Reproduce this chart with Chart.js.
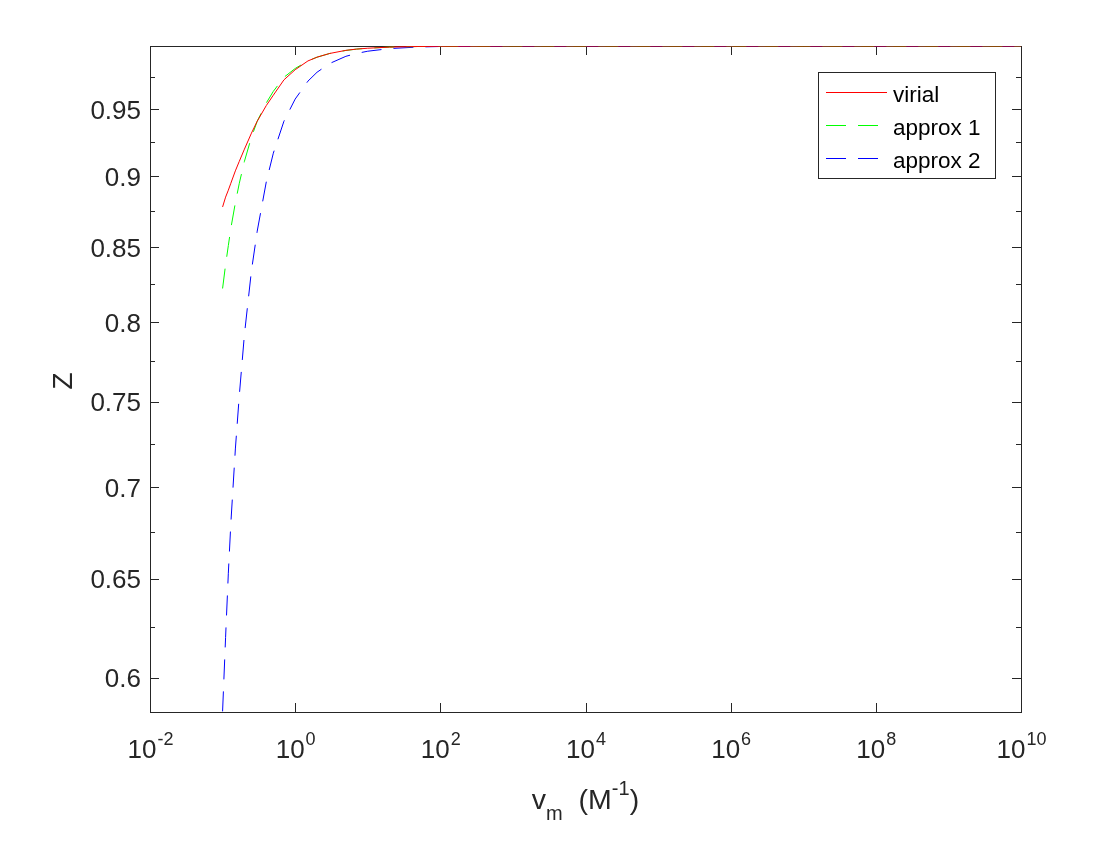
<!DOCTYPE html>
<html>
<head>
<meta charset="utf-8">
<title>Z vs vm</title>
<script src="https://cdn.jsdelivr.net/npm/chart.js@4"></script>
<style>
  body { margin: 0; background: #fff; }
  #wrap { position: relative; width: 1117px; height: 851px; }
</style>
</head>
<body>
<div id="wrap"><canvas id="gr1"></canvas></div>
<script>
// molar volume (M^-1), log spaced sample points
const vm = [0.1, 0.11, 0.12, 0.13, 0.15, 0.17, 0.2, 0.25, 0.3, 0.4, 0.5, 0.7, 1, 1.5, 2, 3, 5, 7, 10, 20, 50, 100,
  1e3, 1e4, 1e5, 1e6, 1e7, 1e8, 1e9, 1e10];

// compressibility factor
const zVirial = [0.878, 0.885, 0.890, 0.895, 0.904, 0.911, 0.920, 0.932, 0.941, 0.953, 0.961, 0.973, 0.981, 0.988,
  0.991, 0.994, 0.9965, 0.9975, 0.9982, 0.9991, 0.9996, 0.9998, 1, 1, 1, 1, 1, 1, 1, 1];
const zApprox1 = [0.822, 0.838, 0.851, 0.863, 0.881, 0.895, 0.911, 0.929, 0.941, 0.955, 0.964, 0.975, 0.982, 0.988,
  0.991, 0.994, 0.9964, 0.9975, 0.9982, 0.9991, 0.9996, 0.9998, 1, 1, 1, 1, 1, 1, 1, 1];
const zApprox2 = [0.584, 0.620, 0.653, 0.680, 0.722, 0.754, 0.792, 0.834, 0.861, 0.896, 0.917, 0.941, 0.958, 0.972,
  0.979, 0.986, 0.9917, 0.994, 0.9958, 0.9979, 0.9992, 0.9996, 1, 1, 1, 1, 1, 1, 1, 1];

const seriesNames = ['virial', 'approx 1', 'approx 2'];

// axis ticks
const xTickExp = [-2, 0, 2, 4, 6, 8, 10];
const yTicks = [0.6, 0.65, 0.7, 0.75, 0.8, 0.85, 0.9, 0.95];
const yTickLabels = ['0.6', '0.65', '0.7', '0.75', '0.8', '0.85', '0.9', '0.95'];
const yMinorTicks = [0.625, 0.675, 0.725, 0.775, 0.825, 0.875, 0.925, 0.975];
const xRange = [0.01, 1e10];
const yRange = [0.5837, 1.0];

const axisCol = '#262626';
const FONT = '"Liberation Sans", Arial, Helvetica, sans-serif';

function pts(ys) {
  return vm.map((v, i) => ({ x: v, y: ys[i] }));
}

// frame, ticks and labels drawn with the chart's own scales
const matlabAxes = {
  id: 'matlabAxes',
  beforeDatasetsDraw(chart) {
    const { ctx, chartArea: a, scales } = chart;
    const xs = scales.x, ys = scales.y;
    ctx.save();
    ctx.strokeStyle = axisCol;
    ctx.lineWidth = 1;
    ctx.strokeRect(Math.round(a.left) + 0.5, Math.round(a.top) + 0.5,
      Math.round(a.right - a.left), Math.round(a.bottom - a.top));
    ctx.beginPath();
    xTickExp.forEach(e => {
      const px = Math.round(xs.getPixelForValue(Math.pow(10, e))) + 0.5;
      ctx.moveTo(px, a.bottom); ctx.lineTo(px, a.bottom - 9);
      ctx.moveTo(px, a.top); ctx.lineTo(px, a.top + 9);
    });
    yTicks.forEach(v => {
      const py = Math.round(ys.getPixelForValue(v)) + 0.5;
      ctx.moveTo(a.left, py); ctx.lineTo(a.left + 9, py);
      ctx.moveTo(a.right, py); ctx.lineTo(a.right - 9, py);
    });
    yMinorTicks.forEach(v => {
      const py = Math.round(ys.getPixelForValue(v)) + 0.5;
      ctx.moveTo(a.left, py); ctx.lineTo(a.left + 5, py);
      ctx.moveTo(a.right, py); ctx.lineTo(a.right - 5, py);
    });
    ctx.stroke();

    ctx.fillStyle = axisCol;
    // y tick labels
    ctx.font = '26px ' + FONT;
    ctx.textAlign = 'right';
    ctx.textBaseline = 'alphabetic';
    yTicks.forEach((v, i) => {
      ctx.fillText(yTickLabels[i], a.left - 9, ys.getPixelForValue(v) + 9.5);
    });
    // x tick labels 10^n
    ctx.textAlign = 'left';
    xTickExp.forEach(e => {
      const px = xs.getPixelForValue(Math.pow(10, e));
      ctx.font = '26px ' + FONT;
      const w1 = ctx.measureText('10').width;
      ctx.font = '18px ' + FONT;
      const w2 = ctx.measureText(String(e)).width;
      const x0 = px - (w1 + w2) / 2;
      ctx.font = '26px ' + FONT;
      ctx.fillText('10', x0, a.bottom + 46);
      ctx.font = '18px ' + FONT;
      ctx.fillText(String(e), x0 + w1 + 1, a.bottom + 33);
    });

    // x axis title: v_m (M^-1)
    const big = '28.5px ' + FONT, small = '20px ' + FONT;
    const parts = [['v', big, 0], ['m', small, 11], ['  (M', big, 0], ['-1', small, -14], [')', big, 0]];
    let tot = 0;
    parts.forEach(p => { ctx.font = p[1]; tot += ctx.measureText(p[0]).width; });
    let cx = (a.left + a.right) / 2 - tot / 2;
    const base = a.bottom + 97;
    parts.forEach(p => {
      ctx.font = p[1];
      ctx.fillText(p[0], cx, base + p[2]);
      cx += ctx.measureText(p[0]).width;
    });

    // y axis title
    ctx.save();
    ctx.translate(72, (a.top + a.bottom) / 2 + 2);
    ctx.rotate(-Math.PI / 2);
    ctx.font = big;
    ctx.textAlign = 'center';
    ctx.fillText('Z', 0, 0);
    ctx.restore();
    ctx.restore();
  },
  afterDraw(chart) {
    // legend box, upper right
    const { ctx } = chart;
    const bx = 818.5, by = 72.5, bw = 177, bh = 106;
    ctx.save();
    ctx.fillStyle = '#fff';
    ctx.fillRect(bx, by, bw, bh);
    ctx.strokeStyle = axisCol;
    ctx.lineWidth = 1;
    ctx.strokeRect(bx, by, bw, bh);
    ctx.font = '22.5px ' + FONT;
    ctx.textBaseline = 'alphabetic';
    chart.data.datasets.forEach((ds, i) => {
      const ly = Math.round(92 + i * 33) + 0.5;
      ctx.strokeStyle = ds.borderColor;
      ctx.setLineDash(ds.borderDash || []);
      ctx.beginPath();
      ctx.moveTo(826, ly);
      ctx.lineTo(887, ly);
      ctx.stroke();
      ctx.setLineDash([]);
      ctx.fillStyle = '#000';
      ctx.fillText(ds.label, 893, ly + 9);
    });
    ctx.restore();
  }
};

const config = {
  type: 'scatter',
  data: {
    datasets: [
      { label: seriesNames[0], data: pts(zVirial), borderColor: '#ff0000', borderWidth: 1, showLine: true, pointRadius: 0 },
      { label: seriesNames[1], data: pts(zApprox1), borderColor: '#00ff00', borderWidth: 1, borderDash: [20, 12], showLine: true, pointRadius: 0 },
      { label: seriesNames[2], data: pts(zApprox2), borderColor: '#0000ff', borderWidth: 1, borderDash: [20, 12], showLine: true, pointRadius: 0 }
    ]
  },
  options: {
    responsive: true,
    maintainAspectRatio: false,
    animation: false,
    layout: { padding: { left: 150, right: 96, top: 46, bottom: 139 } },
    scales: {
      x: {
        type: 'logarithmic', min: xRange[0], max: xRange[1], display: false, bounds: 'data',
        afterBuildTicks: s => { s.min = xRange[0]; s.max = xRange[1]; }
      },
      y: {
        type: 'logarithmic', min: yRange[0], max: yRange[1], display: false, bounds: 'data',
        afterBuildTicks: s => { s.min = yRange[0]; s.max = yRange[1]; }
      }
    },
    plugins: {
      legend: { display: false },
      tooltip: { enabled: false }
    }
  },
  plugins: [matlabAxes]
};

const graph1 = new Chart(document.getElementById('gr1').getContext('2d'), config);
</script>
</body>
</html>
